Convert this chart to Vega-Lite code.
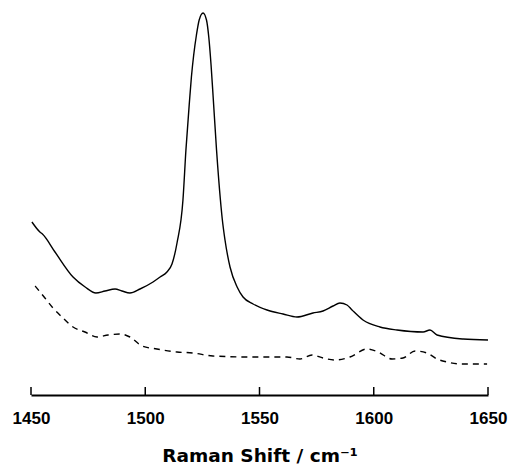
{
  "$schema": "https://vega.github.io/schema/vega-lite/v6.json",
  "autosize": {"type": "none"},
  "width": 457,
  "height": 385,
  "padding": {"left": 31, "top": 10, "right": 25, "bottom": 69},
  "background": "white",
  "config": {"view": {"stroke": null}, "font": "Liberation Sans"},
  "datasets": {
    "solid": [
      {"shift": 1450.4, "intensity": 173},
      {"shift": 1453.9, "intensity": 163},
      {"shift": 1455.0, "intensity": 161},
      {"shift": 1460.5, "intensity": 143},
      {"shift": 1468.4, "intensity": 118},
      {"shift": 1473.7, "intensity": 108},
      {"shift": 1478.4, "intensity": 102},
      {"shift": 1482.4, "intensity": 104},
      {"shift": 1486.8, "intensity": 106},
      {"shift": 1489.8, "intensity": 104},
      {"shift": 1493.3, "intensity": 102},
      {"shift": 1497.7, "intensity": 106},
      {"shift": 1503.4, "intensity": 113},
      {"shift": 1506.5, "intensity": 118},
      {"shift": 1509.5, "intensity": 123},
      {"shift": 1511.7, "intensity": 131},
      {"shift": 1513.9, "intensity": 152},
      {"shift": 1516.5, "intensity": 195},
      {"shift": 1517.8, "intensity": 245},
      {"shift": 1519.4, "intensity": 295},
      {"shift": 1520.2, "intensity": 318},
      {"shift": 1521.2, "intensity": 340},
      {"shift": 1522.4, "intensity": 360},
      {"shift": 1523.6, "intensity": 375},
      {"shift": 1525.3, "intensity": 382},
      {"shift": 1526.8, "intensity": 375},
      {"shift": 1527.8, "intensity": 358},
      {"shift": 1528.8, "intensity": 330},
      {"shift": 1529.8, "intensity": 295},
      {"shift": 1531.2, "intensity": 245},
      {"shift": 1532.9, "intensity": 195},
      {"shift": 1533.7, "intensity": 176},
      {"shift": 1534.9, "intensity": 155},
      {"shift": 1537.1, "intensity": 128},
      {"shift": 1540.2, "intensity": 108},
      {"shift": 1542.8, "intensity": 98},
      {"shift": 1547.2, "intensity": 91},
      {"shift": 1553.3, "intensity": 85},
      {"shift": 1560.3, "intensity": 81},
      {"shift": 1566.4, "intensity": 78},
      {"shift": 1573.4, "intensity": 82},
      {"shift": 1577.8, "intensity": 84},
      {"shift": 1582.2, "intensity": 89},
      {"shift": 1585.2, "intensity": 92},
      {"shift": 1588.3, "intensity": 90},
      {"shift": 1590.5, "intensity": 85},
      {"shift": 1595.3, "intensity": 75},
      {"shift": 1602.7, "intensity": 68},
      {"shift": 1610.2, "intensity": 65},
      {"shift": 1621.6, "intensity": 63},
      {"shift": 1624.6, "intensity": 65},
      {"shift": 1627.7, "intensity": 60},
      {"shift": 1639.1, "intensity": 56},
      {"shift": 1650.0, "intensity": 55}
    ],
    "dashed": [
      {"shift": 1451.8, "intensity": 109},
      {"shift": 1456.1, "intensity": 97},
      {"shift": 1459.6, "intensity": 87},
      {"shift": 1464.0, "intensity": 77},
      {"shift": 1468.4, "intensity": 68},
      {"shift": 1473.6, "intensity": 63},
      {"shift": 1478.9, "intensity": 58},
      {"shift": 1483.7, "intensity": 60},
      {"shift": 1489.0, "intensity": 61},
      {"shift": 1493.3, "intensity": 58},
      {"shift": 1498.6, "intensity": 49},
      {"shift": 1505.1, "intensity": 46},
      {"shift": 1513.9, "intensity": 43},
      {"shift": 1520.9, "intensity": 42},
      {"shift": 1529.6, "intensity": 39},
      {"shift": 1545.8, "intensity": 38},
      {"shift": 1562.0, "intensity": 38},
      {"shift": 1567.7, "intensity": 36},
      {"shift": 1573.0, "intensity": 40},
      {"shift": 1577.8, "intensity": 37},
      {"shift": 1583.0, "intensity": 35},
      {"shift": 1589.6, "intensity": 38},
      {"shift": 1597.0, "intensity": 46},
      {"shift": 1601.9, "intensity": 43},
      {"shift": 1608.0, "intensity": 36},
      {"shift": 1612.8, "intensity": 37},
      {"shift": 1618.1, "intensity": 44},
      {"shift": 1623.3, "intensity": 42},
      {"shift": 1627.7, "intensity": 36},
      {"shift": 1632.1, "intensity": 33},
      {"shift": 1638.6, "intensity": 31},
      {"shift": 1649.6, "intensity": 31}
    ],
    "ticks": [
      {"shift": 1450}, {"shift": 1500}, {"shift": 1550}, {"shift": 1600}, {"shift": 1650}
    ]
  },
  "layer": [
    {
      "data": {"name": "solid"},
      "mark": {"type": "line", "color": "black", "strokeWidth": 1.4, "interpolate": "monotone"},
      "encoding": {
        "x": {
          "field": "shift", "type": "quantitative",
          "scale": {"domain": [1450, 1650], "nice": false, "zero": false},
          "axis": {
            "values": [1450, 1500, 1550, 1600, 1650],
            "format": "d",
            "title": "Raman Shift / cm⁻¹",
            "grid": false,
            "domainColor": "black", "domainWidth": 2,
            "ticks": false, "tickSize": 0,
            "labelFont": "Liberation Sans", "labelFontWeight": "bold", "labelFontSize": 17, "labelColor": "black",
            "labelPadding": 15, "labelFlush": false,
            "titleFont": "DejaVu Sans", "titleFontWeight": "bold", "titleFontSize": 18.5, "titleColor": "black",
            "titlePadding": 20
          }
        },
        "y": {
          "field": "intensity", "type": "quantitative",
          "scale": {"domain": [0, 385], "nice": false, "zero": false},
          "axis": null
        }
      }
    },
    {
      "data": {"name": "dashed"},
      "mark": {"type": "line", "color": "black", "strokeWidth": 1.4, "strokeDash": [6, 5], "interpolate": "monotone"},
      "encoding": {
        "x": {"field": "shift", "type": "quantitative"},
        "y": {"field": "intensity", "type": "quantitative"}
      }
    },
    {
      "data": {"name": "ticks"},
      "mark": {"type": "rule", "color": "black", "strokeWidth": 1.5},
      "encoding": {
        "x": {"field": "shift", "type": "quantitative"},
        "y": {"datum": 0},
        "y2": {"datum": 8}
      }
    }
  ]
}
